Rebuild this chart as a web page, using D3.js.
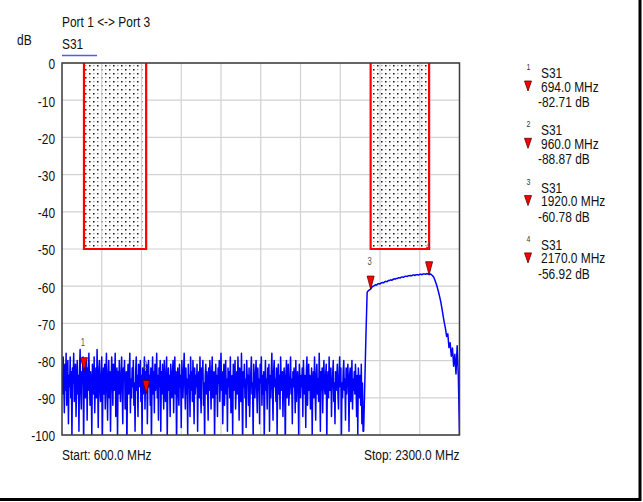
<!DOCTYPE html>
<html><head><meta charset="utf-8">
<script src="https://cdn.jsdelivr.net/npm/d3@7/dist/d3.min.js"></script>
<style>
body{margin:0;background:#fff}
svg{display:block}
text{font-family:"Liberation Sans",Arial,Helvetica,sans-serif}
</style>
</head><body>
<svg id="chart" width="643" height="502"></svg>
<script>
// ---------------- data ----------------
const sweepStartMHz = 600;
const sweepStopMHz = 2300;

// S31 out-of-band noise floor (dB): 600 MHz onward, 2.5 MHz step
const noiseStartMHz = 600, noiseStepMHz = 2.5;
const s31NoiseDb = [
 -83,-89,-79,-86,-94,-81,-88,-78,-92,-85,
 -80,-97,-84,-87,-79,-90,-83,-101,-82,-86,
 -78,-91,-85,-81,-95,-87,-80,-89,-84,-99,
 -82,-77,-88,-93,-83,-86,-79,-103,-85,-81,
 -90,-84,-80,-96,-82,-88,-78,-85,-92,-83,
 -87,-100,-81,-84,-89,-79,-94,-86,-82,-90,
 -77,-85,-98,-83,-80,-88,-91,-84,-79,-102,
 -86,-82,-89,-81,-93,-85,-78,-87,-96,-84,
 -80,-90,-83,-99,-86,-79,-84,-92,-81,-88,
 -85,-78,-95,-87,-82,-101,-83,-89,-80,-86,
 -91,-84,-79,-88,-97,-82,-85,-80,-93,-87,
 -83,-104,-86,-81,-89,-84,-78,-94,-85,-90,
 -82,-87,-80,-92,-86,-99,-83,-79,-88,-84,
 -95,-81,-87,-85,-80,-91,-84,-100,-82,-89,
 -86,-79,-93,-83,-88,-81,-97,-85,-80,-87,
 -84,-92,-82,-102,-86,-79,-89,-83,-94,-81,
 -88,-85,-78,-90,-84,-96,-82,-87,-80,-99,
 -83,-89,-81,-86,-93,-80,-85,-91,-84,-79,
 -101,-87,-82,-88,-84,-95,-81,-86,-90,-83,
 -80,-94,-85,-79,-89,-83,-103,-86,-82,-88,
 -92,-81,-87,-84,-98,-80,-85,-90,-83,-78,
 -86,-93,-82,-89,-85,-100,-81,-87,-84,-95,
 -79,-88,-83,-91,-80,-86,-97,-82,-89,-84,
 -87,-81,-99,-85,-83,-90,-79,-88,-94,-82,
 -85,-80,-92,-86,-102,-84,-81,-89,-83,-87,
 -96,-82,-88,-80,-85,-93,-84,-79,-90,-86,
 -83,-101,-87,-81,-89,-84,-95,-82,-86,-80,
 -91,-85,-78,-88,-83,-97,-86,-81,-92,-84,
 -80,-89,-85,-99,-82,-87,-83,-90,-79,-94,
 -86,-84,-100,-81,-88,-85,-80,-93,-87,-83,
 -89,-79,-86,-96,-82,-84,-91,-78,-88,-103,
 -83,-87,-81,-90,-85,-98,-80,-86,-84,-92,
 -82,-95,-88,-83,-79,-89,-86,-101,-81,-85,
 -90,-84,-80,-87,-94,-82,-88,-85,-97,-81,
 -86,-79,-92,-84,-89,-83,-102,-87,-80,-88,
 -85,-93,-82,-86,-81,-99,-84,-90,-83,-78,
 -88,-96,-83,-80,-87,-85,-91,-82,-100,-86,
 -81,-89,-84,-93,-79,-86,-88,-83,-95,-85,
 -82,-87,-104,-84,-80,-90,-86,-81,-92,-88,
 -84,-79,-89,-85,-97,-83,-87,-82,-86,-94,
 -80,-91,-86,-83,-88,-101,-81,-85,-90,-84,
 -87,-82,-95,-80,-86,-89,-84,-98,-83,-79,
 -92,-85,-81,-88,-84,-93,-87,-82,-100,-86,
 -83,-90,-79,-87,-96,-84,-81,-89,-85,-91,
 -78,-86,-99,-83,-88,-82,-94,-85,-80,-87,
 -89,-84,-81,-102,-86,-83,-90,-79,-88,-85,
 -82,-95,-87,-84,-80,-91,-86,-97,-83,-88,
 -85,-81,-89,-93,-84,-79,-87,-82,-101,-86,
 -90,-83,-80,-88,-85,-96,-82,-89,-84,-81,
 -87,-99,-84,-82,-91,-86,-80,-93,-85,-88,
 -83,-89,-81,-86,-95,-84,-100,-82,-87,-90,
 -84,-92,-81,-97,-86,-99
];

// S31 band edge, passband and roll-off (dB): 1890 MHz onward, 5 MHz step
const bandStartMHz = 1890, bandStepMHz = 5;
const s31EdgeDb = [-99,-86,-73,-61.6,-61.2,-61.0];
const s31PassbandDb = [
 -60.8,-60.3,-60.0,-59.9,-59.6,-59.7,-59.4,-59.3,-59.4,-59.1,
 -59.0,-59.1,-58.8,-58.7,-58.8,-58.5,-58.5,-58.3,-58.4,-58.2,
 -58.0,-58.1,-57.9,-57.9,-57.7,-57.8,-57.6,-57.5,-57.6,-57.4,
 -57.3,-57.4,-57.2,-57.2,-57.1,-57.2,-57.0,-57.0,-57.1,-56.9,
 -56.9,-57.0,-56.8,-56.8,-56.9,-56.7,-56.7,-56.8,-56.6,-56.7,
 -56.9
];
const s31RolloffDb = [
 -56.7,-56.9,-57.2,-57.6,-58.4,-59.3,-60.3,-61.5,-62.8,-64.2,
 -66.0,-68.0,-69.8,-71.4,-73.5,-72.8,-76.5,-75.2,-78.8,-76.6,
 -81.5,-78.3,-83.6,-76.0,-84.0,-100
];

const yTickValues = [0,-10,-20,-30,-40,-50,-60,-70,-80,-90,-100];
const xDivisions = 10;

const markerIds = [1,2,3,4];
const markerFreqMHz = [694.0, 960.0, 1920.0, 2170.0];
const markerDb = [-82.71, -88.87, -60.78, -56.92];

const maskStartMHz = [694, 1920];
const maskStopMHz = [960, 2170];
const maskUpperDb = [0, 0];
const maskLowerDb = [-50, -50];

const titleText = "Port 1 <-> Port 3";
const traceName = "S31";
const unitText = "dB";
const startLabel = "Start: 600.0 MHz";
const stopLabel = "Stop: 2300.0 MHz";

// ---------------- drawing ----------------
const trace = [].concat(
  s31NoiseDb.map((v,i)=>({f: noiseStartMHz + i*noiseStepMHz, v})),
  [].concat(s31EdgeDb, s31PassbandDb, s31RolloffDb).map((v,i)=>({f: bandStartMHz + i*bandStepMHz, v}))
);

const svg = d3.select("#chart");
const L = 62, R = 459.5, T = 63, B = 435;
const x = d3.scaleLinear().domain([sweepStartMHz, sweepStopMHz]).range([L, R]);
const y = d3.scaleLinear().domain([-100, 0]).range([B, T]);
const SX = 0.77, FS = 15.5;
const hy = s => s.replace("\u2212","-");

function txt(g, px, py, s, opt={}) {
  return g.append("text")
    .attr("transform", `translate(${px},${py}) scale(${opt.sx ?? SX},1)`)
    .attr("text-anchor", opt.anchor || "start")
    .attr("font-size", opt.size || FS)
    .attr("fill", opt.fill || "#111")
    .text(s);
}

const defs = svg.append("defs");
const pat = defs.append("pattern").attr("id","dots")
  .attr("patternUnits","userSpaceOnUse").attr("width",8).attr("height",8);
pat.append("rect").attr("width",8).attr("height",8).attr("fill","#fff");
pat.append("rect").attr("x",1).attr("y",1).attr("width",1.5).attr("height",1.5).attr("fill","#111");
pat.append("rect").attr("x",5).attr("y",5).attr("width",1.5).attr("height",1.5).attr("fill","#111");
pat.append("rect").attr("x",5).attr("y",1.3).attr("width",1.4).attr("height",0.8).attr("fill","#777");
pat.append("rect").attr("x",1).attr("y",5.3).attr("width",1.4).attr("height",0.8).attr("fill","#777");
defs.append("clipPath").attr("id","plotclip").append("rect")
  .attr("x",L).attr("y",T).attr("width",R-L).attr("height",B-T);

// horizontal grid
svg.append("g").selectAll("line").data(yTickValues).join("line")
  .attr("x1",L).attr("x2",R).attr("y1",d=>y(d)).attr("y2",d=>y(d))
  .attr("stroke","#d2d2d2").attr("stroke-width",1.2);

// masks
const masks = maskStartMHz.map((s,i)=>({s, e: maskStopMHz[i], top: maskUpperDb[i], bot: maskLowerDb[i]}));
svg.append("g").selectAll("rect").data(masks).join("rect")
  .attr("x",d=>x(d.s)).attr("y",d=>y(d.top)).attr("width",d=>x(d.e)-x(d.s)).attr("height",d=>y(d.bot)-y(d.top))
  .attr("fill","url(#dots)");

// vertical grid
const xGrid = d3.range(1, xDivisions).map(i => sweepStartMHz + i*(sweepStopMHz-sweepStartMHz)/xDivisions);
svg.append("g").selectAll("line").data(xGrid).join("line")
  .attr("x1",d=>x(d)).attr("x2",d=>x(d)).attr("y1",T).attr("y2",B)
  .attr("stroke","#d2d2d2").attr("stroke-width",1.2);

// mask outlines
svg.append("g").selectAll("path").data(masks).join("path")
  .attr("d",d=>`M${x(d.s)},${y(d.top)}V${y(d.bot)}H${x(d.e)}V${y(d.top)}`)
  .attr("fill","none").attr("stroke","#ff0000").attr("stroke-width",2.2);

// trace
svg.append("path").datum(trace)
  .attr("clip-path","url(#plotclip)")
  .attr("d", d3.line().x(d=>x(d.f)).y(d=>y(d.v)))
  .attr("fill","none").attr("stroke","#0000ff").attr("stroke-width",1.5).attr("stroke-linejoin","round");

// frame
svg.append("rect").attr("x",L).attr("y",T).attr("width",R-L).attr("height",B-T)
  .attr("fill","none").attr("stroke","#3a3a3a").attr("stroke-width",1.5);

// y axis labels via d3 axis
const yAxis = svg.append("g").attr("transform",`translate(${L},0)`)
  .call(d3.axisLeft(y).tickValues(yTickValues).tickSize(0).tickPadding(9).tickFormat(d=>String(d)));
yAxis.select(".domain").remove();
yAxis.selectAll("text")
  .attr("font-size",FS).attr("font-family","Liberation Sans, Arial, sans-serif")
  .attr("fill","#111").attr("dy","0.38em")
  .attr("transform",`scale(${SX},1)`);

// markers
const tri = "M0,0 L-3.5,-13 L3.5,-13 Z";
const mk = markerIds.map((id,i)=>({id, f: markerFreqMHz[i], v: markerDb[i]}));
const mg = svg.append("g");
mk.forEach(d=>{
  mg.append("path").attr("d",tri).attr("transform",`translate(${x(d.f)},${y(d.v)})`)
    .attr("fill","#ff0000").attr("stroke","#5a0000").attr("stroke-width",0.8);
  txt(mg, x(d.f)-1, y(d.v)-24.5, String(d.id), {size:10, fill:"#555", anchor:"middle"});
});

// titles
txt(svg, 62, 26.5, titleText);
txt(svg, 62, 49, traceName);
svg.append("line").attr("x1",62).attr("x2",97).attr("y1",55.5).attr("y2",55.5)
  .attr("stroke","#5858f0").attr("stroke-width",1.6);
txt(svg, 17, 45, unitText);
txt(svg, L, 460, startLabel);
txt(svg, R, 460, stopLabel, {anchor:"end"});

// legend
const lg = svg.append("g");
mk.forEach((d,i)=>{
  const by = 78 + i*57.3;
  txt(lg, 528.5, by-8, String(d.id), {size:9, fill:"#333", anchor:"middle"});
  txt(lg, 541, by, traceName);
  lg.append("path").attr("d","M0,0 L-3.5,-10 L3.5,-10 Z").attr("transform",`translate(528,${by+13})`)
    .attr("fill","#ff0000").attr("stroke","#5a0000").attr("stroke-width",0.8);
  txt(lg, 541, by+13.5, d3.format(".1f")(d.f) + " MHz");
  txt(lg, 538, by+29, hy(d3.format(".2f")(d.v)) + " dB");
});

// outer border (right and bottom edges)
svg.append("path").attr("d","M640,0 V499.5 H0").attr("fill","none")
  .attr("stroke","#000").attr("stroke-width",3);
</script>
</body></html>
